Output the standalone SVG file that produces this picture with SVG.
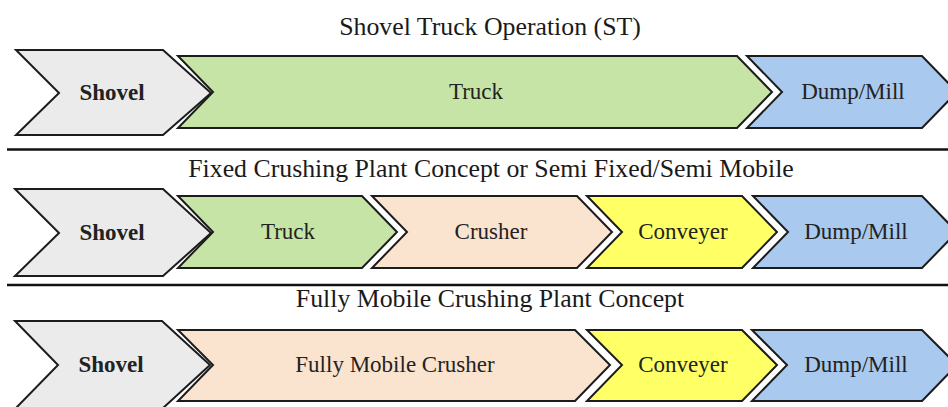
<svg xmlns="http://www.w3.org/2000/svg" width="948" height="407" viewBox="0 0 948 407">
<style>
.ch{stroke:#1c1c1c;stroke-width:2;stroke-linejoin:miter}
.gray{fill:#ebebeb}.green{fill:#c6e4a6}.peach{fill:#fbe4cf}.yellow{fill:#ffff66}.blue{fill:#a9c9ee}
.lbl{font-size:23px;fill:#222;text-anchor:middle}
.b{font-weight:bold}
.ttl{font-size:25.8px;fill:#1a1a1a;text-anchor:middle}
.sep{stroke:#111;stroke-width:2.5}
</style>
<rect width="948" height="407" fill="#fff"/>
<g id="titles" font-family="Liberation Serif, DejaVu Serif, serif">
<text class="ttl" x="490" y="35">Shovel Truck Operation (ST)</text>
<text class="ttl" x="491" y="177">Fixed Crushing Plant Concept or Semi Fixed/Semi Mobile</text>
<text class="ttl" x="490" y="307">Fully Mobile Crushing Plant Concept</text>
</g>
<g id="separators">
<line class="sep" x1="7" y1="149.5" x2="948" y2="149.5"/>
<line class="sep" x1="7" y1="285" x2="948" y2="285"/>
</g>
<g id="connectors"></g>
<g id="nodes" font-family="Liberation Serif, DejaVu Serif, serif">
<g id="r1-shovel"><polygon class="ch gray" points="16,50 163,50 211,93 163,135 16,135 59,93"/><text class="lbl b" x="112" y="100">Shovel</text></g>
<g id="r1-truck"><polygon class="ch green" points="178,56 737,56 772,92 737,128 178,128 213,92"/><text class="lbl" x="476" y="99">Truck</text></g>
<g id="r1-dump"><polygon class="ch blue" points="747,56 922,56 957,92 922,128 747,128 782,92"/><text class="lbl" x="853" y="99">Dump/Mill</text></g>
<g id="r2-shovel"><polygon class="ch gray" points="15,189 163,189 211,233 163,276 15,276 59,233"/><text class="lbl b" x="112" y="240">Shovel</text></g>
<g id="r2-truck"><polygon class="ch green" points="178,196 362,196 397,232 362,268 178,268 213,232"/><text class="lbl" x="288" y="239">Truck</text></g>
<g id="r2-crusher"><polygon class="ch peach" points="372,196 577,196 612,232 577,268 372,268 407,232"/><text class="lbl" x="491" y="239">Crusher</text></g>
<g id="r2-conveyer"><polygon class="ch yellow" points="587,196 742,196 777,232 742,268 587,268 622,232"/><text class="lbl" x="683" y="239">Conveyer</text></g>
<g id="r2-dump"><polygon class="ch blue" points="753,196 922,196 957,232 922,268 753,268 788,232"/><text class="lbl" x="856" y="239">Dump/Mill</text></g>
<g id="r3-shovel"><polygon class="ch gray" points="15,321 162,321 210,365 162,409 15,409 58,365"/><text class="lbl b" x="111" y="372">Shovel</text></g>
<g id="r3-crusher"><polygon class="ch peach" points="178,330 575,330 610,365 575,401 178,401 213,365"/><text class="lbl" x="395" y="372">Fully Mobile Crusher</text></g>
<g id="r3-conveyer"><polygon class="ch yellow" points="587,330 742,330 777,365 742,401 587,401 622,365"/><text class="lbl" x="683" y="372">Conveyer</text></g>
<g id="r3-dump"><polygon class="ch blue" points="752,330 922,330 957,365 922,401 752,401 787,365"/><text class="lbl" x="856" y="372">Dump/Mill</text></g>
</g>
</svg>
